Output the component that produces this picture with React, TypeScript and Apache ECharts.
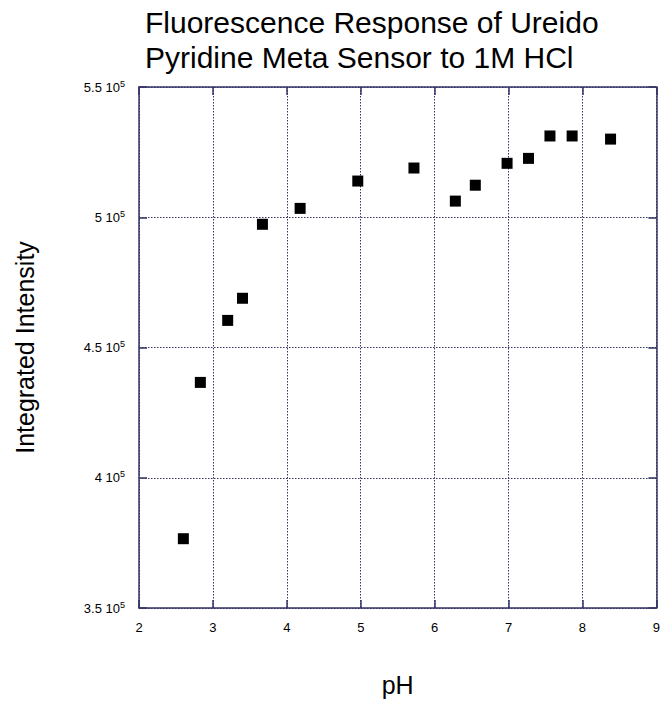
import React, { useEffect, useRef } from "react";
import * as echarts from "echarts";

const titleLines = ["Fluorescence Response of Ureido", "Pyridine Meta Sensor to 1M HCl"];
const xAxisName = "pH";
const yAxisName = "Integrated Intensity";

const phValues = [2.6, 2.83, 3.2, 3.4, 3.67, 4.18, 4.96, 5.72, 6.28, 6.55, 6.98, 7.27, 7.56, 7.86, 8.38];
const intensityValues = [376600, 436600, 460400, 468900, 497300, 503400, 513900, 518900, 506200, 512300, 520700, 522600, 531200, 531200, 530000];

const xMin = 2, xMax = 9, xStep = 1;
const yMin = 350000, yMax = 550000, yStep = 50000;

const FONT = "Liberation Sans, Arial, sans-serif";
const AXIS_COLOR = "#333366";

function yLabel(v: number): string {
  const m = v / 100000;
  const s = Number.isInteger(m) ? String(m) : m.toFixed(1);
  return "{b|" + s + " 10}{s|5}";
}

export default function App() {
  const ref = useRef<HTMLDivElement>(null);
  useEffect(() => {
    if (!ref.current) return;
    const chart = echarts.init(ref.current, undefined, { renderer: "svg" });
    const data = phValues.map((x, i) => [x, intensityValues[i]]);
    const boxAxisLine = { show: true, lineStyle: { color: AXIS_COLOR, width: 1.5 } };
    const tickIn = { show: true, inside: true, length: 8, lineStyle: { color: AXIS_COLOR, width: 1.5 } };
    chart.setOption({
      animation: false,
      backgroundColor: "#ffffff",
      title: {
        text: titleLines.join("\n"),
        left: 145,
        top: 5,
        padding: 0,
        textStyle: { fontFamily: FONT, fontSize: 30, fontWeight: "normal", color: "#000", lineHeight: 35 },
      },
      grid: { left: 139, top: 87, right: 3, bottom: 94, containLabel: false },
      xAxis: [
        {
          type: "value",
          min: xMin,
          max: xMax,
          interval: xStep,
          name: xAxisName,
          nameLocation: "middle",
          nameGap: 64,
          nameTextStyle: { fontFamily: FONT, fontSize: 25, color: "#000" },
          axisLine: boxAxisLine,
          axisTick: tickIn,
          axisLabel: { fontFamily: FONT, fontSize: 13, color: "#000", margin: 13 },
          splitLine: { show: true, lineStyle: { color: AXIS_COLOR, type: [1.5, 1.5], width: 1 } },
        },
        {
          type: "value",
          position: "top",
          min: xMin,
          max: xMax,
          interval: xStep,
          axisLine: boxAxisLine,
          axisTick: tickIn,
          axisLabel: { show: false },
          splitLine: { show: false },
        },
      ],
      yAxis: [
        {
          type: "value",
          min: yMin,
          max: yMax,
          interval: yStep,
          name: yAxisName,
          nameLocation: "middle",
          nameGap: 102,
          nameRotate: 90,
          nameTextStyle: { fontFamily: FONT, fontSize: 25, color: "#000" },
          axisLine: boxAxisLine,
          axisTick: tickIn,
          axisLabel: {
            fontFamily: FONT,
            fontSize: 13,
            color: "#000",
            margin: 14,
            formatter: (v: number) => yLabel(v),
            rich: {
              b: { fontFamily: FONT, fontSize: 13, color: "#000" },
              s: { fontFamily: FONT, fontSize: 9, color: "#000", padding: [0, 0, 7, 0] },
            },
          },
          splitLine: { show: true, lineStyle: { color: AXIS_COLOR, type: [1.5, 1.5], width: 1 } },
        },
        {
          type: "value",
          position: "right",
          min: yMin,
          max: yMax,
          interval: yStep,
          axisLine: boxAxisLine,
          axisTick: tickIn,
          axisLabel: { show: false },
          splitLine: { show: false },
        },
      ],
      series: [
        {
          type: "scatter",
          xAxisIndex: 0,
          yAxisIndex: 0,
          data,
          symbol: "rect",
          symbolSize: 11,
          itemStyle: { color: "#000000", opacity: 1 },
        },
      ],
    });
    return () => chart.dispose();
  }, []);
  return <div ref={ref} style={{ width: 663, height: 702, position: "absolute", left: 0, top: 0 }} />;
}
